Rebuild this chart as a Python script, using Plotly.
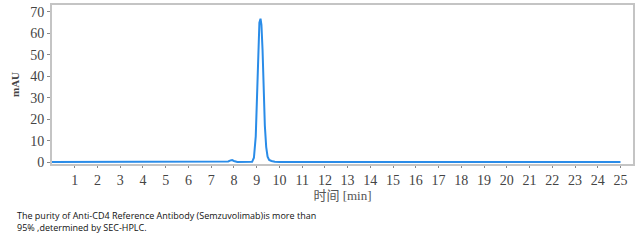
import plotly.graph_objects as go

# Retention time (min) and absorbance (mAU)
time_min = [0.0, 7.6, 7.75, 7.85, 7.92, 8.0, 8.15, 8.8, 8.88, 8.96, 9.02, 9.07, 9.12, 9.17, 9.21,
            9.26, 9.31, 9.36, 9.42, 9.48, 9.55, 9.65, 9.8, 10.0, 25.0]
mau = [0.0, 0.0, 0.3, 0.8, 0.9, 0.5, 0.0, 0.1, 2.0, 12.0, 35.0, 55.0, 65.0, 66.8, 64.0,
       52.0, 33.0, 17.0, 7.0, 2.5, 1.0, 0.5, 0.2, 0.0, 0.0]

x_ticks = list(range(1, 26))
y_ticks = [0, 10, 20, 30, 40, 50, 60, 70]
caption_lines = ["The purity of Anti-CD4 Reference Antibody (Semzuvolimab)is more than",
                 "95% ,determined by SEC-HPLC."]

fig = go.Figure()
fig.add_trace(go.Scatter(x=time_min, y=mau, mode="lines",
                         line=dict(color="#2a8ce8", width=2), showlegend=False))

tick_font = dict(family="Liberation Serif", size=14, color="#444")
fig.update_layout(
    width=638, height=244,
    margin=dict(l=52, r=5, t=3, b=80),
    paper_bgcolor="white", plot_bgcolor="white",
    xaxis=dict(range=[0, 25.55], tickvals=x_ticks, ticks="outside", ticklen=2,
               tickcolor="#888", tickfont=tick_font, showgrid=False, zeroline=False,
               showline=True, linecolor="#c4c4c4", linewidth=2, mirror=True,
               title=dict(text="时间 [min]", standoff=0,
                          font=dict(family="Liberation Serif, Noto Sans CJK SC", size=13, color="#555"))),
    yaxis=dict(range=[-0.9, 73.2], tickvals=y_ticks, ticks="outside", ticklen=3,
               tickcolor="#888", tickfont=tick_font, showgrid=False, zeroline=False,
               showline=True, linecolor="#c4c4c4", linewidth=2, mirror=True,
               title=dict(text="<b>mAU</b>", standoff=8,
                          font=dict(family="Liberation Serif", size=11, color="#444"))),
)

plot_left, plot_w = 52, 633 - 52
fig.add_annotation(text="<br>".join(caption_lines), xref="paper", yref="paper",
                   x=(15 - plot_left) / plot_w, xanchor="left", align="left",
                   y=-(222 - 164) / (164 - 3), yanchor="middle",
                   showarrow=False,
                   font=dict(family="Open Sans, Liberation Sans, sans-serif", size=9, color="#111"))

fig.write_html("out.html")
